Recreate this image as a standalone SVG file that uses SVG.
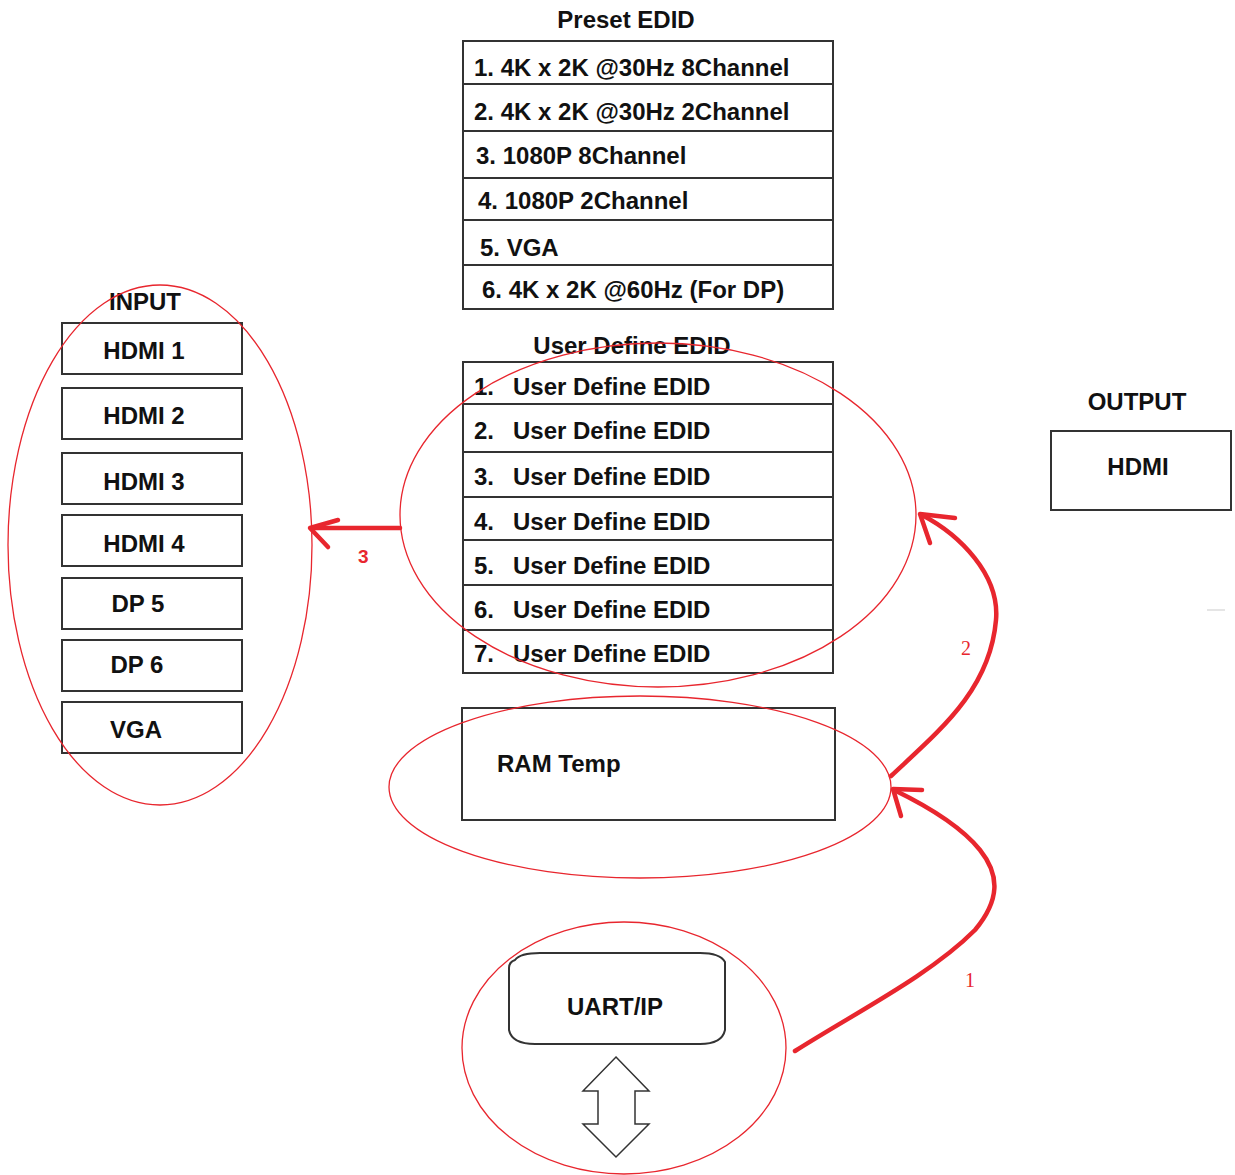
<svg xmlns="http://www.w3.org/2000/svg" width="1235" height="1175" viewBox="0 0 1235 1175">
<style>
.box{fill:#fff;stroke:#333;stroke-width:2}
.t{font-family:"Liberation Sans",Arial,sans-serif;font-weight:bold;font-size:24px;fill:#111}
.tc{text-anchor:middle}
.ring{fill:none;stroke:#e8262e;stroke-width:1.3}
.arr{fill:none;stroke:#e8262e;stroke-width:4.5;stroke-linecap:round;stroke-linejoin:round}
.lbl{font-family:"Liberation Serif","Times New Roman",serif;font-size:20px;fill:#e8262e}
.lbls{font-family:"Liberation Sans",Arial,sans-serif;font-weight:bold;font-size:19px;fill:#e8262e}
</style>
<rect width="1235" height="1175" fill="#fff"/>

<g id="preset-edid">
<text class="t tc" x="626" y="28">Preset EDID</text>
<rect class="box" x="463" y="41" width="370" height="268"/>
<line class="box" x1="463" y1="84" x2="833" y2="84"/>
<line class="box" x1="463" y1="131" x2="833" y2="131"/>
<line class="box" x1="463" y1="178" x2="833" y2="178"/>
<line class="box" x1="463" y1="220" x2="833" y2="220"/>
<line class="box" x1="463" y1="265" x2="833" y2="265"/>
<text class="t" x="474" y="76">1. 4K x 2K @30Hz 8Channel</text>
<text class="t" x="474" y="120">2. 4K x 2K @30Hz 2Channel</text>
<text class="t" x="476" y="164">3. 1080P 8Channel</text>
<text class="t" x="478" y="209">4. 1080P 2Channel</text>
<text class="t" x="480" y="256">5. VGA</text>
<text class="t" x="482" y="298">6.  4K x 2K @60Hz (For DP)</text>
</g>

<g id="user-define-edid">
<text class="t tc" x="632" y="354">User Define EDID</text>
<rect class="box" x="463" y="362" width="370" height="311"/>
<line class="box" x1="463" y1="404" x2="833" y2="404"/>
<line class="box" x1="463" y1="452" x2="833" y2="452"/>
<line class="box" x1="463" y1="497" x2="833" y2="497"/>
<line class="box" x1="463" y1="540" x2="833" y2="540"/>
<line class="box" x1="463" y1="585" x2="833" y2="585"/>
<line class="box" x1="463" y1="630" x2="833" y2="630"/>
<text class="t" x="474" y="395">1.</text><text class="t" x="513" y="395">User Define EDID</text>
<text class="t" x="474" y="439">2.</text><text class="t" x="513" y="439">User Define EDID</text>
<text class="t" x="474" y="485">3.</text><text class="t" x="513" y="485">User Define EDID</text>
<text class="t" x="474" y="530">4.</text><text class="t" x="513" y="530">User Define EDID</text>
<text class="t" x="474" y="574">5.</text><text class="t" x="513" y="574">User Define EDID</text>
<text class="t" x="474" y="618">6.</text><text class="t" x="513" y="618">User Define EDID</text>
<text class="t" x="474" y="662">7.</text><text class="t" x="513" y="662">User Define EDID</text>
<ellipse class="ring" cx="658" cy="515" rx="258" ry="172"/>
</g>

<g id="ram-temp">
<rect class="box" x="462" y="708" width="373" height="112"/>
<text class="t" x="497" y="772">RAM Temp</text>
<ellipse class="ring" cx="640" cy="787" rx="251" ry="91"/>
</g>

<g id="input">
<text class="t tc" x="145" y="310">INPUT</text>
<rect class="box" x="62" y="323" width="180" height="51"/>
<text class="t tc" x="144" y="359">HDMI 1</text>
<rect class="box" x="62" y="388" width="180" height="51"/>
<text class="t tc" x="144" y="424">HDMI 2</text>
<rect class="box" x="62" y="453" width="180" height="51"/>
<text class="t tc" x="144" y="490">HDMI 3</text>
<rect class="box" x="62" y="515" width="180" height="51"/>
<text class="t tc" x="144" y="552">HDMI 4</text>
<rect class="box" x="62" y="578" width="180" height="51"/>
<text class="t tc" x="138" y="612">DP 5</text>
<rect class="box" x="62" y="640" width="180" height="51"/>
<text class="t tc" x="137" y="673">DP 6</text>
<rect class="box" x="62" y="702" width="180" height="51"/>
<text class="t tc" x="136" y="738">VGA</text>
<ellipse class="ring" cx="160" cy="545" rx="152" ry="260"/>
</g>

<g id="output">
<text class="t tc" x="1137" y="410">OUTPUT</text>
<rect class="box" x="1051" y="431" width="180" height="79"/>
<text class="t tc" x="1138" y="475">HDMI</text>
<line x1="1207" y1="610" x2="1225" y2="610" stroke="#ddd" stroke-width="1.5"/>
</g>

<g id="uart-ip">
<path class="box" d="M515,960 Q520,953 540,953 L700,953 Q720,953 725,962 L725,1030 Q722,1044 700,1044 L535,1044 Q512,1044 509,1030 L509,968 Q509,962 515,960 Z"/>
<text class="t tc" x="615" y="1015">UART/IP</text>
<path fill="#fff" stroke="#333" stroke-width="1.5" d="M616,1057 L649,1091 L635,1091 L635,1124 L649,1124 L616,1157 L583,1124 L598,1124 L598,1091 L583,1091 Z"/>
<ellipse class="ring" cx="624" cy="1048" rx="162" ry="126"/>
</g>

<g id="connectors">
<path class="arr" d="M400,528 L312,528"/>
<path class="arr" d="M338,520 L310,528 L328,547"/>
<text class="lbls" x="358" y="563">3</text>
<path class="arr" d="M891,776 C940,730 990,690 996,620 C1000,575 960,535 922,515"/>
<path class="arr" d="M955,518 L920,514 L930,543"/>
<text class="lbl" x="961" y="655">2</text>
<path class="arr" d="M795,1051 C860,1010 930,975 975,930 C1000,900 1000,875 980,850 C960,825 925,805 894,790"/>
<path class="arr" d="M922,790 L893,789 L901,816"/>
<text class="lbl" x="965" y="987">1</text>
</g>
</svg>
